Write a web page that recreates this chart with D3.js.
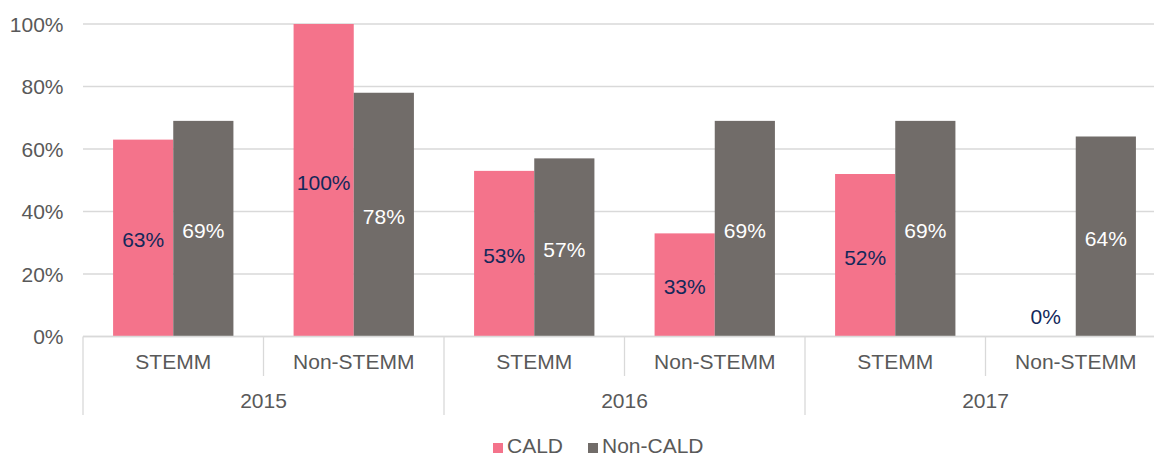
<!DOCTYPE html>
<html>
<head>
<meta charset="utf-8">
<script src="https://cdn.jsdelivr.net/npm/d3@7"></script>
<style>
  html, body { margin: 0; padding: 0; background: #fff; }
  svg { display: block; font-family: "Liberation Sans", Arial, sans-serif; }
</style>
</head>
<body>
<svg id="chart" width="1154" height="454"></svg>
<script>
// Chart data
const years = ["2015", "2016", "2017"];
const fields = ["STEMM", "Non-STEMM"];
const seriesNames = ["CALD", "Non-CALD"];
const caldValues = [63, 100, 53, 33, 52, 0];
const nonCaldValues = [69, 78, 57, 69, 69, 64];
const yTicks = [0, 20, 40, 60, 80, 100];

const colors = { "CALD": "#F4738B", "Non-CALD": "#716C69" };
const labelColors = { "CALD": "#13285A", "Non-CALD": "#FFFFFF" };
const fontSize = "21px";

// One row per (year, field) pair
const rows = [];
years.forEach(yr => fields.forEach(f => rows.push({ year: yr, field: f, key: yr + "|" + f })));
rows.forEach((r, i) => { r["CALD"] = caldValues[i]; r["Non-CALD"] = nonCaldValues[i]; });

const svg = d3.select("#chart");
const plotLeft = 83, plotRight = 1166, plotTop = 24, plotBottom = 336.5;

const x0 = d3.scaleBand().domain(rows.map(r => r.key)).range([plotLeft, plotRight]).padding(0);
const x1 = d3.scaleBand().domain(seriesNames).range([0, x0.bandwidth()]).paddingInner(0).paddingOuter(0.5);
const y = d3.scaleLinear().domain([0, 100]).range([plotBottom, plotTop]);

const grid = "#D9D9D9";
const textCol = "#595959";

// Horizontal gridlines
svg.append("g").selectAll("line").data(yTicks).join("line")
  .attr("x1", plotLeft).attr("x2", 1154)
  .attr("y1", d => y(d)).attr("y2", d => y(d))
  .attr("stroke", grid).attr("stroke-width", 1.3);

// Y axis labels
const yAxis = d3.axisLeft(y).tickValues(yTicks).tickFormat(d => d + "%").tickSize(0).tickPadding(0);
const yg = svg.append("g").attr("transform", `translate(63.5,0)`).call(yAxis);
yg.select(".domain").remove();
yg.selectAll("text").attr("fill", textCol).style("font-size", fontSize)
  .style("font-family", "'Liberation Sans', Arial, sans-serif").attr("dy", "0.35em");

// Bars
const groups = svg.append("g").selectAll("g").data(rows).join("g")
  .attr("transform", d => `translate(${x0(d.key)},0)`);

groups.selectAll("rect").data(d => seriesNames.map(s => ({ s, v: d[s] }))).join("rect")
  .attr("x", d => x1(d.s)).attr("width", x1.bandwidth())
  .attr("y", d => y(d.v)).attr("height", d => y(0) - y(d.v))
  .attr("fill", d => colors[d.s]);

// Value labels centred in each bar
groups.selectAll("text").data(d => seriesNames.map(s => ({ s, v: d[s] }))).join("text")
  .attr("x", d => x1(d.s) + x1.bandwidth() / 2)
  .attr("y", d => Math.min((y(d.v) + y(0)) / 2, y(0) - 22) + 2)
  .attr("dy", "0.35em")
  .attr("text-anchor", "middle")
  .attr("fill", d => d.v === 0 ? labelColors["CALD"] : labelColors[d.s])
  .style("font-size", fontSize)
  .text(d => d.v + "%");

// Category axis: baseline, dividers and labels
svg.append("line").attr("x1", plotLeft).attr("x2", 1154).attr("y1", y(0)).attr("y2", y(0))
  .attr("stroke", grid).attr("stroke-width", 1.3);

const subDividers = rows.map(r => x0(r.key)).concat([plotRight]);
svg.append("g").selectAll("line").data(subDividers).join("line")
  .attr("x1", d => d).attr("x2", d => d)
  .attr("y1", y(0)).attr("y2", (d, i) => i % 2 === 0 ? 415 : 376)
  .attr("stroke", grid).attr("stroke-width", 1.3);

svg.append("g").selectAll("text").data(rows).join("text")
  .attr("x", d => x0(d.key) + x0.bandwidth() / 2).attr("y", 362)
  .attr("dy", "0.35em").attr("text-anchor", "middle")
  .attr("fill", textCol).style("font-size", fontSize)
  .text(d => d.field);

svg.append("g").selectAll("text").data(years).join("text")
  .attr("x", d => x0(d + "|" + fields[0]) + x0.bandwidth())
  .attr("y", 400.5).attr("dy", "0.35em").attr("text-anchor", "middle")
  .attr("fill", textCol).style("font-size", fontSize)
  .text(d => d);

// Legend
const legend = svg.append("g");
const legendItems = [{ name: "CALD", x: 493 }, { name: "Non-CALD", x: 588 }];
legendItems.forEach(it => {
  legend.append("rect").attr("x", it.x).attr("y", 443).attr("width", 10).attr("height", 10)
    .attr("fill", colors[it.name]);
  legend.append("text").attr("x", it.x + 14).attr("y", 453)
    .attr("fill", textCol).style("font-size", fontSize).text(it.name);
});
</script>
</body>
</html>
